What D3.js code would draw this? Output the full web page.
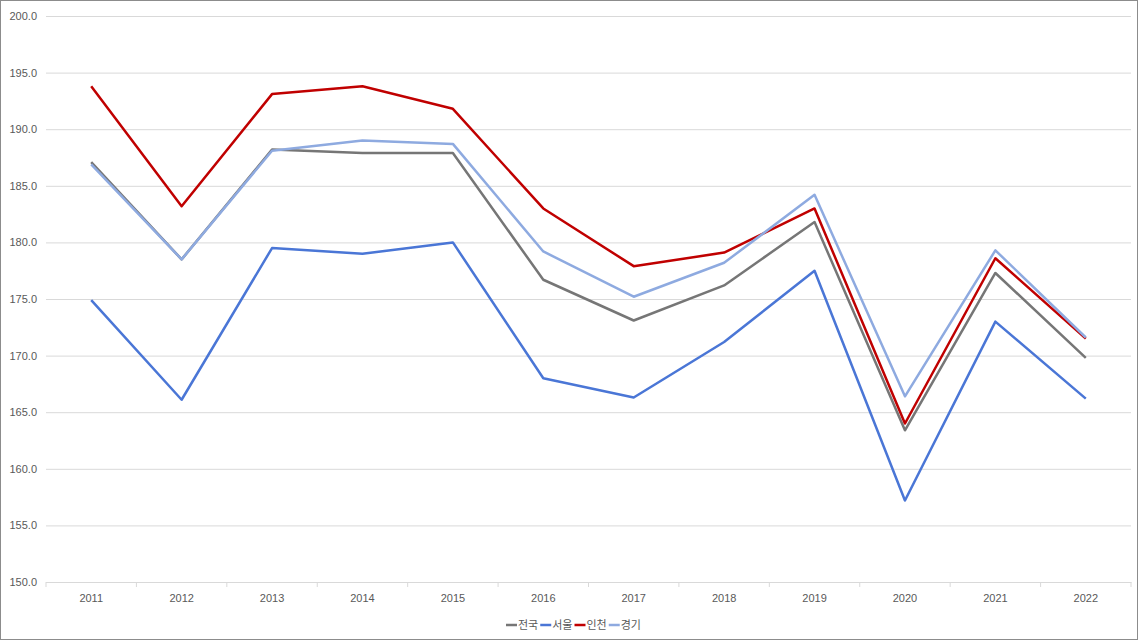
<!DOCTYPE html>
<html><head><meta charset="utf-8">
<script src="https://cdn.jsdelivr.net/npm/d3@7"></script>
<style>
html,body{margin:0;padding:0;background:#fff;}
svg{display:block;font-family:"Noto Sans CJK KR","Noto Sans",sans-serif;}
</style></head>
<body>
<svg id="c" width="1138" height="640"></svg>
<script>
const years = ["2011","2012","2013","2014","2015","2016","2017","2018","2019","2020","2021","2022"];
const seriesNames = ["전국","서울","인천","경기"];
const seriesColors = ["#767676","#4a76d6","#c00000","#8eaae0"];
const national = [187.1,178.5,188.2,187.9,187.9,176.7,173.1,176.2,181.8,163.4,177.3,169.8];
const seoul    = [174.9,166.1,179.5,179.0,180.0,168.0,166.3,171.2,177.5,157.2,173.0,166.2];
const incheon  = [193.8,183.2,193.1,193.8,191.8,183.0,177.9,179.1,183.0,164.0,178.6,171.5];
const gyeonggi = [186.9,178.5,188.1,189.0,188.7,179.2,175.2,178.2,184.2,166.4,179.3,171.6];
const yTicks = [150,155,160,165,170,175,180,185,190,195,200];

(function(){
const svg = d3.select("#c");
const W = 1138, H = 640;
svg.append("rect").attr("x",0.5).attr("y",0.5).attr("width",W-1).attr("height",H-1)
  .attr("fill","#fff").attr("stroke","#8c8c8c").attr("stroke-width",1);

const pL = 46, pR = 1131, pT = 16, pB = 582;
const x = d3.scaleBand().domain(years).range([pL,pR]).padding(0);
const y = d3.scaleLinear().domain([150,200]).range([pB,pT]);

const yAxis = d3.axisLeft(y).tickValues(yTicks).tickFormat(d3.format(".1f"))
  .tickSize(-(pR-pL)).tickPadding(9);
const gy = svg.append("g").attr("transform",`translate(${pL},0)`).call(yAxis);
gy.select(".domain").remove();
gy.selectAll(".tick line").attr("stroke","#d9d9d9").attr("stroke-width",1);
gy.selectAll(".tick text").attr("fill","#595959").attr("font-size",11);

const xAxis = d3.axisBottom(x).tickSize(0).tickPadding(12);
const gx = svg.append("g").attr("transform",`translate(0,${pB})`).call(xAxis);
gx.select(".domain").attr("stroke","#d9d9d9");
gx.selectAll(".tick text").attr("fill","#595959").attr("font-size",11);
const bounds = years.map(d=>x(d)).concat([pR]);
svg.append("g").selectAll("line").data(bounds).join("line")
  .attr("x1",d=>d).attr("x2",d=>d).attr("y1",pB).attr("y2",pB+5)
  .attr("stroke","#d9d9d9").attr("stroke-width",1);

const data = [national, seoul, incheon, gyeonggi];
const line = d3.line().x((d,i)=>x(years[i])+x.bandwidth()/2).y(d=>y(d));
svg.append("g").selectAll("path").data(data).join("path")
  .attr("d",line).attr("fill","none")
  .attr("stroke",(d,i)=>seriesColors[i]).attr("stroke-width",2.5)
  .attr("stroke-linejoin","round");

const lg = svg.append("g").attr("transform","translate(506,625)");
let cx = 0;
seriesNames.forEach((n,i)=>{
  lg.append("line").attr("x1",cx).attr("x2",cx+11).attr("y1",0).attr("y2",0)
    .attr("stroke",seriesColors[i]).attr("stroke-width",2.5);
  const t = lg.append("text").attr("x",cx+12).attr("y",4).attr("font-size",11)
    .attr("fill","#595959").text(n);
  cx += 12 + t.node().getComputedTextLength() + 2;
});
})();
</script>
</body></html>
